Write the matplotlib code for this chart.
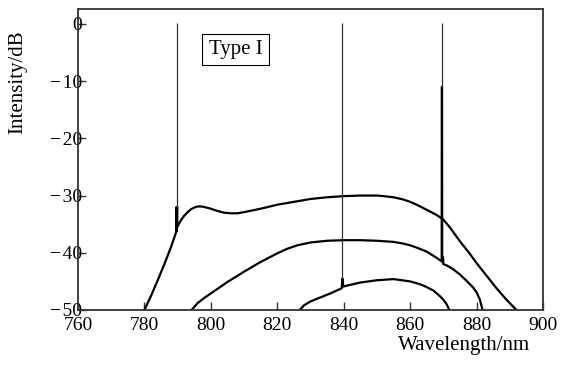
import matplotlib
matplotlib.use("Agg")
import matplotlib.pyplot as plt

plt.rcParams['font.family'] = ['Liberation Serif', 'DejaVu Serif']

# Data (wavelength in nm, intensity in dB)
wl_1 = [780, 782, 784, 786, 788, 789.6, 789.65, 789.7, 789.85, 789.9, 791, 792, 793,
        794, 795, 796, 797, 798, 800, 802, 804, 806, 808, 810, 815, 820, 825, 830,
        835, 840, 845, 850, 852, 855, 858, 860, 862, 865, 868, 870, 872, 875, 878,
        880, 883, 886, 889, 892]
db_1 = [-50, -47.5, -44.8, -42, -39, -36.3, -32, -36.2, -32, -35.5, -34.3, -33.5, -32.9,
        -32.4, -32.1, -31.9, -31.9, -32.0, -32.3, -32.7, -33.0, -33.1, -33.1, -32.9,
        -32.3, -31.6, -31.1, -30.6, -30.3, -30.1, -30.0, -30.0, -30.1, -30.3, -30.7,
        -31.1, -31.6, -32.5, -33.4, -34.2, -35.6, -38.0, -40.2, -41.8, -44.0, -46.2,
        -48.2, -50]

wl_2 = [794.2, 796, 798, 800, 805, 810, 815, 820, 823, 826, 830, 835, 840, 845, 850,
        855, 858, 860, 862, 865, 868, 869.5, 869.55, 869.6, 869.65, 869.9, 870.0, 871,
        873, 875, 877, 879, 880, 881, 881.8]
db_2 = [-50, -48.8, -47.9, -47.1, -45.1, -43.3, -41.6, -40.1, -39.3, -38.7, -38.2,
        -37.9, -37.8, -37.8, -37.9, -38.1, -38.4, -38.7, -39.1, -39.8, -40.9, -41.5,
        -11, -11, -41.5, -40.8, -42.0, -42.2, -42.9, -43.8, -44.9, -46.1, -46.9,
        -48.2, -50]

wl_3 = [826.8, 828, 830, 833, 836, 839.4, 839.6, 839.9, 842, 845, 850, 855, 860, 863,
        865, 867, 869, 870, 871, 871.8]
db_3 = [-50, -49.2, -48.5, -47.8, -47.1, -46.2, -44.5, -45.9, -45.6, -45.2, -44.8,
        -44.6, -45.0, -45.5, -46.0, -46.6, -47.6, -48.2, -49.0, -50]

# narrow laser lines
spike_wl = [789.75, 839.6, 869.6]
spike_base = [-32, -44.5, -11]
spike_top = [0.2, 0.2, 0.2]

fig = plt.figure(figsize=(5.63, 3.65), dpi=100)
ax = fig.add_axes([78 / 563, 1 - 310 / 365, 465 / 563, 301 / 365])

for wl, db in [(wl_1, db_1), (wl_2, db_2), (wl_3, db_3)]:
    ax.plot(wl, db, color='black', lw=1.6, solid_joinstyle='round')

ax.vlines(spike_wl, spike_base, spike_top, color='#333333', lw=0.9)

ax.set_xlim(760, 900)
ax.set_ylim(-50, 2.6)
ax.set_xticks([760, 780, 800, 820, 840, 860, 880, 900])
ax.set_yticks([0, -10, -20, -30, -40, -50])
ax.set_yticklabels(['0', '\u2212\u200a10', '\u2212\u200a20', '\u2212\u200a30',
                    '\u2212\u200a40', '\u2212\u200a50'])
ax.tick_params(direction='in', length=6, width=1.0, labelsize=14, color='#333333')
ax.tick_params(axis='y', pad=-3)
ax.tick_params(axis='x', pad=5)
for s in ax.spines.values():
    s.set_linewidth(1.3)
    s.set_color('#333333')

ax.text(0.972, -0.118, 'Wavelength/nm', transform=ax.transAxes, ha='right',
        va='center', fontsize=15)
ax.text(-0.129, 0.757, 'Intensity/dB', transform=ax.transAxes, rotation=90,
        ha='center', va='center', fontsize=15)

ax.text(807.4, -4.5, 'Type I', ha='center', va='center', fontsize=15,
        bbox=dict(boxstyle='square,pad=0.3', fc='white', ec='black', lw=0.8))

fig.savefig('out.png', dpi=100)
